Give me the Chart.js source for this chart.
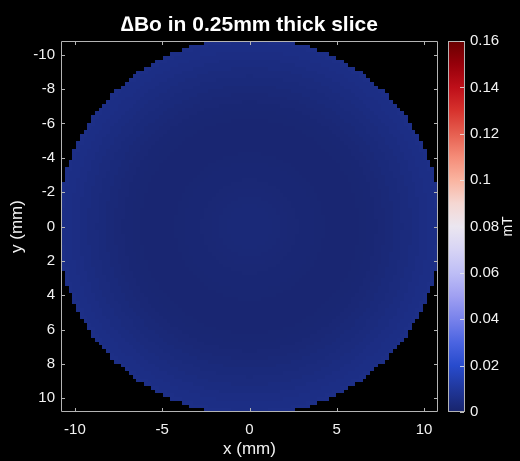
<!DOCTYPE html>
<html>
<head>
<meta charset="utf-8">
<script src="https://cdn.jsdelivr.net/npm/chart.js@4.4.1/dist/chart.umd.min.js"></script>
<style>
  html, body { margin: 0; background: #000; }
  canvas { display: block; }
</style>
</head>
<body>
<canvas id="fieldChart" width="520" height="461"></canvas>
<script>
// slice grid (mm)
const gridCells = 100;
const gridHalfWidth = 10.8;
const sampleRadius = 11.0;

// dBo (mT) against distance from the centre, every 0.5 mm
const profileRadii = [0, 0.5, 1, 1.5, 2, 2.5, 3, 3.5, 4, 4.5, 5, 5.5,
                      6, 6.5, 7, 7.5, 8, 8.5, 9, 9.5, 10, 10.5, 11];
const profileValues = [0.0026, 0.0026, 0.0025, 0.0024, 0.0022, 0.0020, 0.0018, 0.0016,
                       0.0014, 0.0013, 0.0012, 0.0012, 0.0013, 0.0015, 0.0018, 0.0022,
                       0.0026, 0.0031, 0.0036, 0.0042, 0.0048, 0.0053, 0.0057];

const xTicks = [-10, -5, 0, 5, 10];
const yTicks = [-10, -8, -6, -4, -2, 0, 2, 4, 6, 8, 10];
const colorTicks = [0, 0.02, 0.04, 0.06, 0.08, 0.1, 0.12, 0.14, 0.16];

// blue - white - red colormap
const cmapValues = [0, 0.01, 0.02, 0.03, 0.04, 0.05, 0.06, 0.07, 0.08,
                    0.09, 0.10, 0.11, 0.12, 0.13, 0.14, 0.15, 0.16];
const cmapColors = [
  [24, 36, 108], [32, 55, 155], [40, 75, 205], [75, 100, 225], [120, 130, 235],
  [160, 160, 242], [190, 190, 246], [215, 212, 245], [235, 230, 240], [245, 215, 210],
  [250, 180, 160], [245, 140, 120], [230, 95, 80], [215, 50, 45], [190, 15, 25],
  [150, 0, 10], [105, 0, 0]
];

const axisColor = '#b4b4b4';
const textColor = '#f2f2f2';
Chart.defaults.font.family = '"Liberation Sans", Arial, Helvetica, sans-serif';

function colorFor(v) {
  const n = cmapValues.length;
  if (v <= cmapValues[0]) return 'rgb(' + cmapColors[0].join(',') + ')';
  if (v >= cmapValues[n - 1]) return 'rgb(' + cmapColors[n - 1].join(',') + ')';
  let i = 0;
  while (v > cmapValues[i + 1]) i++;
  const t = (v - cmapValues[i]) / (cmapValues[i + 1] - cmapValues[i]);
  const a = cmapColors[i], b = cmapColors[i + 1];
  return 'rgb(' + a.map((c, k) => Math.round(c + (b[k] - c) * t)).join(',') + ')';
}

// cells inside the round sample
const cellSize = 2 * gridHalfWidth / gridCells;
const cells = [];
for (let j = 0; j < gridCells; j++) {
  const cy = -gridHalfWidth + cellSize * (j + 0.5);
  for (let i = 0; i < gridCells; i++) {
    const cx = -gridHalfWidth + cellSize * (i + 0.5);
    const r = Math.hypot(cx, cy);
    if (r > sampleRadius) continue;
    const k = Math.min(profileRadii.length - 1, Math.round(r / 0.5));
    cells.push({ x: cx, y: cy, v: profileValues[k] });
  }
}

const heatmapPlugin = {
  id: 'heatmap',
  beforeDraw(chart) {
    const { ctx, width, height } = chart;
    ctx.save();
    ctx.fillStyle = '#000';
    ctx.fillRect(0, 0, width, height);
    ctx.restore();
  },
  beforeDatasetsDraw(chart) {
    const { ctx, chartArea, scales: { x, y } } = chart;
    const half = cellSize / 2;
    ctx.save();
    ctx.beginPath();
    ctx.rect(chartArea.left, chartArea.top, chartArea.right - chartArea.left, chartArea.bottom - chartArea.top);
    ctx.clip();
    chart.data.datasets[0].data.forEach(c => {
      const l = Math.round(x.getPixelForValue(c.x - half));
      const r = Math.round(x.getPixelForValue(c.x + half));
      const t = Math.round(y.getPixelForValue(c.y - half));
      const b = Math.round(y.getPixelForValue(c.y + half));
      ctx.fillStyle = colorFor(c.v);
      ctx.fillRect(l, Math.min(t, b), r - l, Math.abs(b - t));
    });
    ctx.restore();
  },
  afterDraw(chart) {
    const { ctx, chartArea: a, scales: { x, y, cb } } = chart;
    const tl = 4;
    ctx.save();
    ctx.strokeStyle = axisColor;
    ctx.lineWidth = 1;
    ctx.beginPath();
    ctx.rect(Math.round(a.left) + 0.5, Math.round(a.top) + 0.5,
             Math.round(a.right - a.left) - 1, Math.round(a.bottom - a.top) - 1);
    ctx.stroke();
    // inward ticks on all four sides
    ctx.beginPath();
    xTicks.forEach(v => {
      const px = Math.round(x.getPixelForValue(v)) + 0.5;
      ctx.moveTo(px, a.bottom); ctx.lineTo(px, a.bottom - tl);
      ctx.moveTo(px, a.top); ctx.lineTo(px, a.top + tl);
    });
    yTicks.forEach(v => {
      const py = Math.round(y.getPixelForValue(v)) + 0.5;
      ctx.moveTo(a.left, py); ctx.lineTo(a.left + tl, py);
      ctx.moveTo(a.right, py); ctx.lineTo(a.right - tl, py);
    });
    ctx.stroke();

    // colorbar
    const cbLeft = Math.round(a.right) + 10;
    const cbRight = Math.round(a.right) + 27;
    const y0 = cb.getPixelForValue(0);
    const y1 = cb.getPixelForValue(0.16);
    const grad = ctx.createLinearGradient(0, y0, 0, y1);
    cmapValues.forEach(v => grad.addColorStop(v / 0.16, colorFor(v)));
    ctx.fillStyle = grad;
    ctx.fillRect(cbLeft, y1, cbRight - cbLeft, y0 - y1);
    ctx.strokeStyle = axisColor;
    ctx.strokeRect(cbLeft + 0.5, Math.round(y1) + 0.5, cbRight - cbLeft - 1, Math.round(y0 - y1) - 1);
    ctx.strokeStyle = 'rgba(235,235,235,0.8)';
    ctx.beginPath();
    colorTicks.forEach(v => {
      const py = Math.round(cb.getPixelForValue(v)) + 0.5;
      ctx.moveTo(cbRight - 1, py); ctx.lineTo(cbRight - 5, py);
    });
    ctx.stroke();

    // colorbar unit
    ctx.translate(508, (y0 + y1) / 2);
    ctx.rotate(-Math.PI / 2);
    ctx.fillStyle = textColor;
    ctx.font = '14px "Liberation Sans", Arial, sans-serif';
    ctx.textAlign = 'center';
    ctx.textBaseline = 'middle';
    ctx.fillText('mT', 0, 0);
    ctx.restore();
  }
};

const tickFont = { size: 15 };

new Chart(document.getElementById('fieldChart'), {
  type: 'scatter',
  data: {
    datasets: [{ data: cells, pointRadius: 0, pointHoverRadius: 0 }]
  },
  options: {
    responsive: false,
    animation: false,
    events: [],
    layout: { padding: 0 },
    plugins: {
      legend: { display: false },
      tooltip: { enabled: false },
      title: {
        display: true,
        text: '\u2206Bo in 0.25mm thick slice',
        color: '#ffffff',
        fullSize: false,
        font: { size: 21, weight: 'bold' },
        padding: { top: 8, bottom: 3 }
      }
    },
    scales: {
      x: {
        type: 'linear',
        min: -gridHalfWidth,
        max: gridHalfWidth,
        afterBuildTicks: s => { s.ticks = xTicks.map(v => ({ value: v })); },
        afterFit: s => { s.height = 49; },
        grid: { display: true, drawOnChartArea: false, drawTicks: false },
        border: { display: false },
        ticks: { color: textColor, font: tickFont, padding: 9, maxRotation: 0, autoSkip: false },
        title: { display: true, text: 'x (mm)', color: textColor, font: { size: 17 }, padding: { top: 0, bottom: 1.5 } }
      },
      y: {
        type: 'linear',
        reverse: true,
        min: -gridHalfWidth,
        max: gridHalfWidth,
        afterBuildTicks: s => { s.ticks = yTicks.map(v => ({ value: v })); },
        afterFit: s => { s.width = 61; },
        grid: { display: true, drawOnChartArea: false, drawTicks: false },
        border: { display: false },
        ticks: { color: textColor, font: tickFont, padding: 6, autoSkip: false },
        title: { display: true, text: 'y (mm)', color: textColor, font: { size: 17 }, padding: { top: 7, bottom: 0 } }
      },
      cb: {
        type: 'linear',
        position: 'right',
        min: 0,
        max: 0.16,
        afterBuildTicks: s => { s.ticks = colorTicks.map(v => ({ value: v })); },
        afterFit: s => { s.width = 82; },
        grid: { display: false, drawTicks: false },
        border: { display: false },
        ticks: {
          color: textColor, font: tickFont, padding: 32, autoSkip: false,
          callback: v => String(+v.toFixed(2))
        }
      }
    }
  },
  plugins: [heatmapPlugin]
});
</script>
</body>
</html>
